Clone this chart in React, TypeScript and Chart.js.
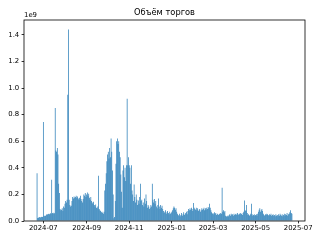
import React, { useEffect, useRef } from "react";
import { Chart, registerables } from "chart.js";

Chart.register(...registerables);

// ---- data (daily trading volume, millions) ----
const firstDay = "2024-06-22";
const vol2024Jun = [360, 22, 25, 28, 30, 26, 30, 32, 30];
const vol2024Jul = [745, 35, 40, 38, 45, 50, 48, 52, 55, 50, 58, 55, 310, 60, 55, 62, 58, 850, 530, 520, 550, 500, 280, 210, 90, 80, 85, 95, 75, 110, 100];
const vol2024Aug = [130, 150, 140, 160, 950, 1440, 160, 120, 110, 115, 150, 180, 170, 185, 175, 180, 190, 175, 185, 170, 160, 175, 190, 165, 150, 140, 165, 200, 190, 210, 180];
const vol2024Sep = [200, 215, 190, 205, 175, 160, 180, 150, 140, 130, 145, 120, 110, 125, 100, 95, 110, 340, 90, 80, 75, 65, 70, 60, 55, 70, 230, 280, 360, 450];
const vol2024Oct = [500, 520, 470, 550, 480, 620, 520, 380, 200, 20, 30, 150, 430, 600, 620, 580, 600, 520, 480, 350, 220, 100, 380, 420, 330, 400, 300, 420, 920, 420, 480];
const vol2024Nov = [420, 400, 280, 420, 230, 200, 150, 275, 180, 140, 200, 160, 120, 155, 130, 180, 280, 150, 160, 120, 140, 110, 170, 130, 200, 150, 100, 120, 110, 90];
const vol2024Dec = [100, 120, 110, 280, 160, 140, 165, 130, 150, 110, 95, 120, 170, 110, 90, 120, 100, 115, 90, 75, 60, 70, 80, 55, 65, 75, 60, 50, 70, 55, 60];
const vol2025Jan = [70, 80, 95, 110, 100, 85, 95, 70, 55, 45, 40, 55, 35, 45, 60, 40, 50, 65, 45, 55, 60, 70, 50, 75, 90, 80, 95, 85, 100, 90, 75];
const vol2025Feb = [135, 100, 90, 85, 100, 80, 95, 75, 85, 90, 70, 80, 95, 85, 90, 100, 80, 95, 85, 100, 90, 105, 95, 130, 100, 80, 65, 55];
const vol2025Mar = [60, 50, 65, 55, 60, 45, 55, 50, 45, 55, 50, 60, 55, 250, 70, 80, 65, 75, 40, 35, 30, 40, 35, 45, 50, 40, 55, 45, 50, 40, 55];
const vol2025Apr = [45, 50, 55, 45, 60, 50, 45, 55, 60, 50, 55, 45, 60, 70, 155, 80, 75, 120, 60, 45, 50, 40, 45, 55, 130, 50, 40, 45, 50, 40];
const vol2025May = [45, 50, 40, 55, 70, 85, 95, 70, 80, 90, 75, 55, 45, 40, 50, 45, 55, 50, 45, 40, 50, 45, 55, 40, 45, 50, 40, 45, 35, 50, 40];
const vol2025Jun = [45, 35, 50, 40, 55, 45, 40, 50, 35, 45, 55, 40, 50, 45, 60, 40, 50, 55, 65, 80, 60, 55];

const tickLabels = ["2024-07", "2024-09", "2024-11", "2025-01", "2025-03", "2025-05", "2025-07"];
const yTickValues = [0, 0.2, 0.4, 0.6, 0.8, 1.0, 1.2, 1.4];
const chartTitle = "Объём торгов";
const offsetLabel = "1e9";

const DAY = 86400000;
const origin = Date.UTC(2024, 6, 1);
const dayOf = (iso: string) => {
  const [y, m, d] = iso.split("-").map(Number);
  return Math.round((Date.UTC(y, m - 1, d || 1) - origin) / DAY);
};

export default function App() {
  const ref = useRef<HTMLCanvasElement | null>(null);

  useEffect(() => {
    document.body.style.margin = "0";
    const all = [
      ...vol2024Jun, ...vol2024Jul, ...vol2024Aug, ...vol2024Sep, ...vol2024Oct, ...vol2024Nov,
      ...vol2024Dec, ...vol2025Jan, ...vol2025Feb, ...vol2025Mar, ...vol2025Apr, ...vol2025May, ...vol2025Jun,
    ];
    const start = dayOf(firstDay);
    const points = all.map((v, i) => ({ x: start + i, y: v * 1e6 }));
    const lo = start - 0.4;
    const hi = start + all.length - 1 + 0.4;
    const margin = (hi - lo) * 0.05;
    const yMax = Math.max(...all) * 1e6 * 1.05;
    const tickDays = tickLabels.map((t) => dayOf(t));
    const font = { family: "'DejaVu Sans'", size: 6.9 };

    const frame = {
      id: "frame",
      afterDraw(chart: any) {
        const { ctx, chartArea: a } = chart;
        ctx.save();
        ctx.strokeStyle = "#000";
        ctx.lineWidth = 0.8;
        ctx.strokeRect(a.left, a.top, a.right - a.left, a.bottom - a.top);
        ctx.fillStyle = "#000";
        ctx.font = "8.3px 'DejaVu Sans'";
        ctx.textAlign = "center";
        ctx.textBaseline = "alphabetic";
        ctx.fillText(chartTitle, (a.left + a.right) / 2, a.top - 5.5);
        ctx.font = "6.9px 'DejaVu Sans'";
        ctx.textAlign = "left";
        ctx.fillText(offsetLabel, a.left, a.top - 3);
        ctx.restore();
      },
    };

    const chart = new Chart(ref.current as HTMLCanvasElement, {
      type: "bar",
      data: {
        datasets: [
          {
            data: points as any,
            backgroundColor: "#1f77b4",
            borderWidth: 0,
            barThickness: 0.7,
            inflateAmount: 0,
          } as any,
        ],
      },
      options: {
        responsive: false,
        devicePixelRatio: 1,
        animation: false,
        layout: { padding: { left: 0, top: 20, right: 15, bottom: 0 } },
        plugins: { legend: { display: false }, tooltip: { enabled: false }, title: { display: false } },
        scales: {
          x: {
            type: "linear",
            offset: false,
            min: lo - margin,
            max: hi + margin,
            afterFit: (s: any) => { s.height = 19; },
            afterBuildTicks: (s: any) => { s.ticks = tickDays.map((v) => ({ value: v })); },
            ticks: {
              autoSkip: false,
              maxRotation: 0,
              padding: 1,
              color: "#000",
              font,
              callback: (v: any) => { const i = tickDays.indexOf(Number(v)); return i >= 0 ? tickLabels[i] : ""; },
            },
            grid: { display: true, offset: false, drawOnChartArea: false, drawTicks: true, tickLength: 2.4, color: "#000", lineWidth: 0.8 },
            border: { display: false },
          },
          y: {
            type: "linear",
            min: 0,
            max: yMax,
            afterFit: (s: any) => { s.width = 24; },
            afterBuildTicks: (s: any) => { s.ticks = yTickValues.map((v) => ({ value: v * 1e9 })); },
            ticks: {
              padding: 2.4,
              color: "#000",
              font,
              callback: (v: any) => (Number(v) / 1e9).toFixed(1),
            },
            grid: { display: true, drawOnChartArea: false, drawTicks: true, tickLength: 2.4, color: "#000", lineWidth: 0.8 },
            border: { display: false },
          },
        },
      },
      plugins: [frame],
    });
    return () => chart.destroy();
  }, []);

  return (
    <div style={{ width: 320, height: 240 }}>
      <canvas ref={ref} width={320} height={240} style={{ display: "block" }} />
    </div>
  );
}
